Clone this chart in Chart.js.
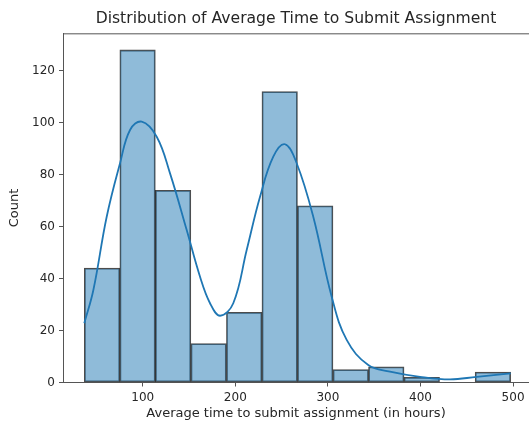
<!DOCTYPE html>
<html>
<head>
<meta charset="utf-8">
<script src="https://cdn.jsdelivr.net/npm/chart.js@4.4.1/dist/chart.umd.min.js"></script>
<style>
	html, body { margin: 0; padding: 0; background: #fff; }
	#wrap { width: 529px; height: 425px; }
</style>
</head>
<body>
<div id="wrap"><canvas id="chart"></canvas></div>
<script>
// histogram bins (hours) and counts
const binEdges = [36.9, 75.3, 113.6, 152.0, 190.4, 228.8, 267.1, 305.5, 343.9, 382.2, 420.6, 459.0, 497.4];
const counts = [44, 128, 74, 15, 27, 112, 68, 5, 6, 2, 0, 4];

// kde curve
const kdeX = [36.9, 46.7, 61.1, 75.5, 86.3, 98.9, 115.1, 129.5, 147.5, 161.9, 172.7, 183.5, 197.8, 212.3, 226.7, 241.0, 253.7, 266.3, 284.2, 304.1, 320.3, 343.6, 367.1, 399.5, 431.9, 460.7, 497.4];
const kdeY = [22.8, 35.6, 63.8, 84.4, 97.2, 100.4, 94.6, 80.5, 58.7, 40.7, 30.5, 25.7, 30.5, 51.0, 71.5, 86.9, 91.7, 84.4, 63.8, 33.0, 16.4, 6.7, 4.2, 2.2, 1.2, 2.2, 3.5];

const xTicks = [100, 200, 300, 400, 500];
const yTicks = [0, 20, 40, 60, 80, 100, 120];

const textColor = '#262626';
const spineColor = '#555';

const barData = counts.map((c, i) => ({ x: (binEdges[i] + binEdges[i + 1]) / 2, y: c }));
const kdeData = kdeX.map((x, i) => ({ x: x, y: kdeY[i] }));

const topSpine = {
	id: 'topSpine',
	afterDraw(chart) {
		const a = chart.chartArea;
		const ctx = chart.ctx;
		ctx.save();
		ctx.strokeStyle = spineColor;
		ctx.lineWidth = 1;
		ctx.beginPath();
		ctx.moveTo(a.left, a.top + 0.5);
		ctx.lineTo(a.right, a.top + 0.5);
		ctx.stroke();
		ctx.restore();
	}
};

const config = {
	type: 'bar',
	data: {
		datasets: [{
			type: 'line',
			data: kdeData,
			borderColor: '#1f77b4',
			borderWidth: 1.8,
			pointRadius: 0,
			tension: 0.4,
			fill: false,
			order: 0
		}, {
			type: 'bar',
			data: barData,
			backgroundColor: 'rgba(31,119,180,0.5)',
			borderColor: 'rgba(0,0,0,0.7)',
			borderWidth: 1.1,
			borderSkipped: false,
			categoryPercentage: 1,
			barPercentage: 1,
			order: 1
		}]
	},
	options: {
		responsive: true,
		maintainAspectRatio: false,
		animation: false,
		layout: { padding: 0 },
		plugins: {
			legend: { display: false },
			tooltip: { enabled: false },
			title: {
				display: true,
				text: 'Distribution of Average Time to Submit Assignment',
				fullSize: false,
				color: textColor,
				font: { family: 'DejaVu Sans', size: 15.6, weight: 'normal' },
				padding: { top: 9.6, bottom: 5 }
			}
		},
		scales: {
			x: {
				type: 'linear',
				min: 13.9,
				max: 517.2,
				offset: false,
				afterBuildTicks: s => { s.ticks = xTicks.map(v => ({ value: v })); },
				afterFit: s => { s.height = 42.5; },
				grid: { drawOnChartArea: false, offset: false, tickLength: 4, color: spineColor },
				border: { display: true, color: spineColor, width: 1 },
				ticks: { color: textColor, font: { family: 'DejaVu Sans', size: 12 }, padding: 4, maxRotation: 0 },
				title: {
					display: true,
					text: 'Average time to submit assignment (in hours)',
					color: textColor,
					font: { family: 'DejaVu Sans', size: 13 },
					padding: { top: 0, bottom: 4 }
				}
			},
			y: {
				min: 0,
				max: 134.4,
				afterBuildTicks: s => { s.ticks = yTicks.map(v => ({ value: v })); },
				afterFit: s => { s.width = 63; },
				grid: { drawOnChartArea: false, tickLength: 4, color: spineColor },
				border: { display: true, color: spineColor, width: 1 },
				ticks: { color: textColor, font: { family: 'DejaVu Sans', size: 12 }, padding: 4 },
				title: {
					display: true,
					text: 'Count',
					color: textColor,
					font: { family: 'DejaVu Sans', size: 13 },
					padding: { top: 7, bottom: 0 }
				}
			}
		}
	},
	plugins: [topSpine]
};

const chart = new Chart(document.getElementById('chart'), config);
</script>
</body>
</html>
